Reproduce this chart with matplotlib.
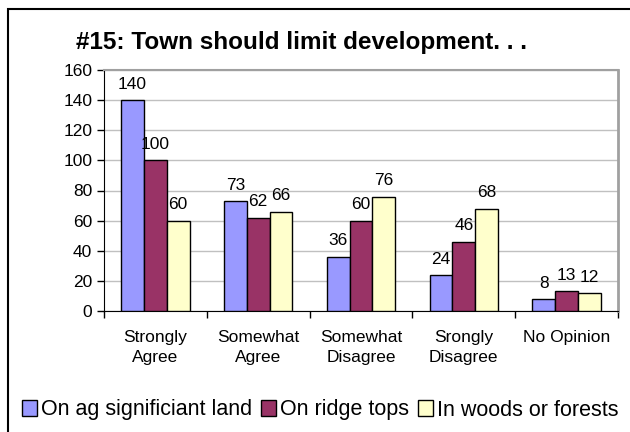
import matplotlib.pyplot as plt
import numpy as np
from matplotlib.patches import Rectangle

plt.rcParams['font.family'] = ['Liberation Sans', 'DejaVu Sans']

categories = ["Strongly\nAgree", "Somewhat\nAgree", "Somewhat\nDisagree", "Srongly\nDisagree", "No Opinion"]
series_names = ["On ag significiant land", "On ridge tops", "In woods or forests"]
ag_land = [140, 73, 36, 24, 8]
ridge_tops = [100, 62, 60, 46, 13]
woods = [60, 66, 76, 68, 12]
colors = ["#9999FF", "#993366", "#FFFFCC"]

fig = plt.figure(figsize=(6.3, 4.32), dpi=100)
W, H = 630, 432
ax = fig.add_axes([104 / W, 1 - 311 / H, (618 - 104) / W, (311 - 70) / H])

x = np.arange(len(categories))
w = 0.222
for i, (vals, c, name) in enumerate(zip([ag_land, ridge_tops, woods], colors, series_names)):
    pos = x + (i - 1) * w
    bars = ax.bar(pos, vals, width=w, color=c, edgecolor="black", linewidth=1.0,
                  label=name, zorder=3)
    for b, v in zip(bars, vals):
        ax.text(b.get_x() + b.get_width() / 2, v + 5.5, str(v), ha="center", va="bottom",
                fontsize=12.5, zorder=4)

ax.set_xlim(-0.5, len(categories) - 0.5)
ax.set_ylim(0, 160)
ax.set_yticks(range(0, 161, 20))
ax.yaxis.grid(True, color="#C0C0C0", linewidth=1.0, zorder=0)
ax.set_axisbelow(True)

# ticks between categories, labels at centers
ax.set_xticks(np.arange(-0.5, len(categories), 1.0))
ax.set_xticklabels([])
ax.set_xticks(x, minor=True)
ax.set_xticklabels(categories, minor=True, fontsize=12.5, linespacing=1.35)
ax.tick_params(axis="x", which="minor", length=0, pad=14)
ax.tick_params(axis="x", which="major", direction="out", length=5, width=1)
ax.tick_params(axis="y", direction="out", length=5, width=1, labelsize=12.5)

ax.spines["left"].set_color("black")
ax.spines["bottom"].set_color("black")
ax.spines["top"].set_color("#A0A0A0")
ax.spines["right"].set_color("#A0A0A0")
ax.spines["right"].set_linewidth(2)
ax.spines["top"].set_linewidth(1.5)

fig.text(301 / W, 1 - 42 / H, "#15: Town should limit development. . .", ha="center", va="center",
         fontsize=17.5, fontweight="bold")

leg = fig.legend(loc="center", bbox_to_anchor=(320 / W, 1 - 410 / H), ncol=3, frameon=False,
                 fontsize=15.5, handlelength=0.7, handleheight=0.7, handletextpad=0.2,
                 columnspacing=0.4, borderaxespad=0)

# outer chart border
fig.patches.append(Rectangle((8 / W, -0.1), 1.2, 1.1 - 9 / H, transform=fig.transFigure,
                             fill=False, edgecolor="black", linewidth=1.5))

fig.savefig("out.png", dpi=100)
